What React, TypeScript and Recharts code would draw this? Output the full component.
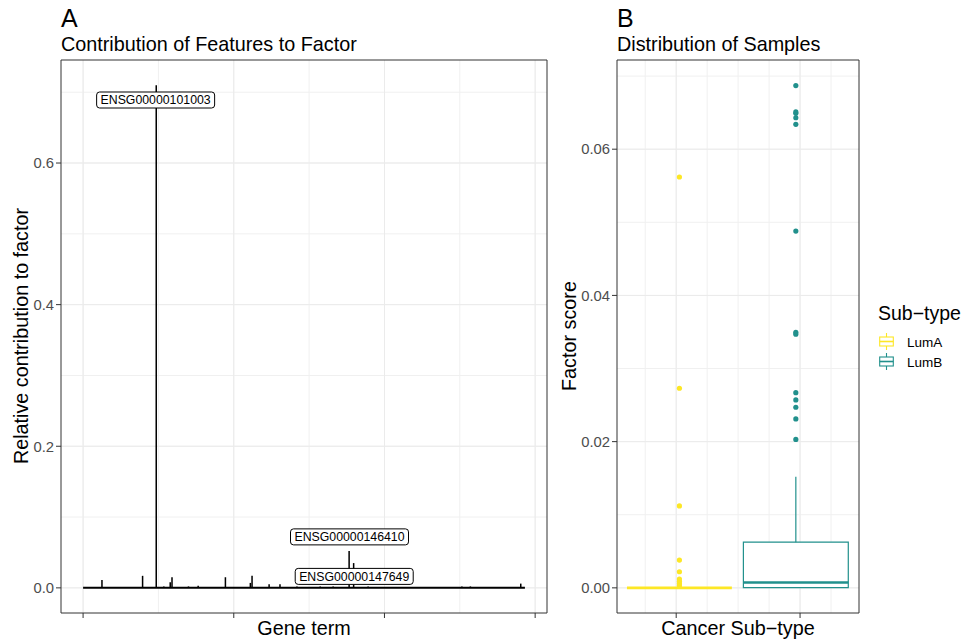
import React from 'react'
import {
  ComposedChart,
  Bar,
  Scatter,
  XAxis,
  YAxis,
  CartesianGrid,
  ReferenceLine,
  ReferenceArea,
  ReferenceDot,
} from 'recharts'

// ---- Panel A data: per-gene contribution (gene index along x) ----
const geneIndex = [629, 1977, 2430, 2682, 2894, 2953, 3500, 3821, 4725, 5553, 5609, 6175, 6536, 7099, 7870, 8300, 8830, 8980, 9460, 12572, 12853, 14525]
const contribution = [0.011, 0.017, 0.71, 0.002, 0.008, 0.015, 0.002, 0.003, 0.015, 0.007, 0.017, 0.005, 0.005, 0.002, 0.002, 0.002, 0.052, 0.035, 0.002, 0.002, 0.002, 0.006]
const geneCount = 14660

const labelGenes = ['ENSG00000101003', 'ENSG00000146410', 'ENSG00000147649']
const labelIndex = [2407, 8840, 8996]
const labelValue = [0.689, 0.072, 0.0162]

const yTicksA = [0, 0.2, 0.4, 0.6]
const yGridA = [0, 0.1, 0.2, 0.3, 0.4, 0.5, 0.6, 0.7]
const xTicksA = [0, 5000, 10000, 15000]
const xGridA = [0, 2500, 5000, 7500, 10000, 12500, 15000]

// ---- Panel B data: factor score per sub-type ----
const subtypes = ['LumA', 'LumB']
const subtypeColors = ['#FDE725', '#21908C']
const boxQ1 = [0, 0.00003]
const boxMedian = [0, 0.00073]
const boxQ3 = [0, 0.00625]
const whiskerHigh = [0, 0.0152]
const lumAOutliers = [0.0562, 0.0273, 0.0112, 0.0038, 0.0022, 0.0012, 0.0009, 0.0006, 0.0003]
const lumBOutliers = [0.0687, 0.0651, 0.0649, 0.0643, 0.0634, 0.0488, 0.03495, 0.0347, 0.0267, 0.0257, 0.0247, 0.0231, 0.0203]

const yTicksB = [0, 0.02, 0.04, 0.06]
const yGridB = [0, 0.01, 0.02, 0.03, 0.04, 0.05, 0.06, 0.07]
const xTicksB = [1, 2]
const xGridB = [0.75, 1, 1.25, 1.5, 1.75, 2, 2.25]

// layout
const FONT = '"Liberation Sans", Arial, Helvetica, sans-serif'
const X_DOMAIN_A: [number, number] = [-733, 15393]
const Y_DOMAIN_A: [number, number] = [-0.0355, 0.7455]
const X_DOMAIN_B: [number, number] = [0.522, 2.476]
const Y_DOMAIN_B: [number, number] = [-0.00344, 0.0722]
const boxCenters = [1.026, 1.966]
const boxHalf = 0.4235

const tickStyle = { fontSize: 14.8, fill: '#4d4d4d', fontFamily: FONT }

const spikeData = geneIndex.map((g, i) => ({ gene: g, value: contribution[i] }))

function GeneLabel({ cx, cy, text }: { cx: number; cy: number; text: string }) {
  const w = 118
  const h = 16
  return (
    <g>
      <rect x={cx - w / 2} y={cy - h / 2} width={w} height={h} rx={3} ry={3} fill="#fff" stroke="#000" strokeWidth={1} />
      <text x={cx} y={cy + 4.4} textAnchor="middle" fontSize={12.3} fontFamily={FONT} fill="#000">
        {text}
      </text>
    </g>
  )
}

function PanelA() {
  return (
    <ComposedChart width={560} height={641} data={spikeData} margin={{ top: 60, right: 13, left: 21, bottom: 0 }}>
      <CartesianGrid stroke="#f0f0f0" strokeWidth={1} horizontalValues={yGridA} verticalValues={xGridA} />
      <CartesianGrid stroke="#ebebeb" strokeWidth={1} horizontalValues={yTicksA} verticalValues={xTicksA} />
      <XAxis
        dataKey="gene"
        type="number"
        domain={X_DOMAIN_A}
        ticks={xTicksA}
        allowDataOverflow
        height={28}
        tickFormatter={() => ''}
        tickSize={5}
        axisLine={false}
        tickLine={{ stroke: '#333' }}
      />
      <YAxis
        type="number"
        domain={Y_DOMAIN_A}
        ticks={yTicksA}
        allowDataOverflow
        width={40}
        tick={tickStyle}
        tickFormatter={(v: number) => v.toFixed(1)}
        tickSize={5}
        tickMargin={2}
        axisLine={false}
        tickLine={{ stroke: '#333' }}
      />
      <ReferenceLine segment={[{ x: 0, y: 0 }, { x: geneCount, y: 0 }]} stroke="#000" strokeWidth={2} />
      <Bar dataKey="value" fill="#000" barSize={2} isAnimationActive={false} />
      {labelGenes.map((g, i) => (
        <ReferenceDot
          key={g}
          x={labelIndex[i]}
          y={labelValue[i]}
          r={0}
          ifOverflow="visible"
          shape={(p: any) => <GeneLabel cx={p.cx} cy={p.cy} text={g} />}
        />
      ))}
      <ReferenceArea
        x1={X_DOMAIN_A[0]}
        x2={X_DOMAIN_A[1]}
        y1={Y_DOMAIN_A[0]}
        y2={Y_DOMAIN_A[1]}
        fill="none"
        stroke="#333"
        strokeWidth={1}
        ifOverflow="visible"
      />
    </ComposedChart>
  )
}

function PanelB() {
  const outliers = [lumAOutliers, lumBOutliers]
  return (
    <ComposedChart width={404} height={641} margin={{ top: 60, right: 105, left: 7, bottom: 0 }}>
      <CartesianGrid stroke="#f0f0f0" strokeWidth={1} horizontalValues={yGridB} verticalValues={xGridB} />
      <CartesianGrid stroke="#ebebeb" strokeWidth={1} horizontalValues={yTicksB} verticalValues={xTicksB} />
      <XAxis
        dataKey="x"
        type="number"
        domain={X_DOMAIN_B}
        ticks={xTicksB}
        allowDataOverflow
        height={28}
        tickFormatter={() => ''}
        tickSize={5}
        axisLine={false}
        tickLine={{ stroke: '#333' }}
      />
      <YAxis
        dataKey="y"
        type="number"
        domain={Y_DOMAIN_B}
        ticks={yTicksB}
        allowDataOverflow
        width={50}
        tick={tickStyle}
        tickFormatter={(v: number) => v.toFixed(2)}
        tickSize={5}
        tickMargin={2}
        axisLine={false}
        tickLine={{ stroke: '#333' }}
      />
      {subtypes.map((s, i) => (
        <ReferenceLine
          key={s + '-whisker'}
          segment={[{ x: boxCenters[i], y: boxQ3[i] }, { x: boxCenters[i], y: whiskerHigh[i] }]}
          stroke={subtypeColors[i]}
          strokeWidth={1.2}
        />
      ))}
      {subtypes.map((s, i) => (
        <ReferenceArea
          key={s + '-box'}
          x1={boxCenters[i] - boxHalf}
          x2={boxCenters[i] + boxHalf}
          y1={boxQ1[i]}
          y2={boxQ3[i]}
          fill="#fff"
          fillOpacity={1}
          stroke={subtypeColors[i]}
          strokeWidth={1.2}
        />
      ))}
      {subtypes.map((s, i) => (
        <ReferenceLine
          key={s + '-median'}
          segment={[{ x: boxCenters[i] - boxHalf, y: boxMedian[i] }, { x: boxCenters[i] + boxHalf, y: boxMedian[i] }]}
          stroke={subtypeColors[i]}
          strokeWidth={2.6}
        />
      ))}
      {subtypes.map((s, i) => (
        <Scatter
          key={s + '-out'}
          data={outliers[i].map((v) => ({ x: boxCenters[i], y: v }))}
          isAnimationActive={false}
          shape={(p: any) => <circle cx={p.cx} cy={p.cy} r={2.6} fill={subtypeColors[i]} />}
        />
      ))}
      <ReferenceArea
        x1={X_DOMAIN_B[0]}
        x2={X_DOMAIN_B[1]}
        y1={Y_DOMAIN_B[0]}
        y2={Y_DOMAIN_B[1]}
        fill="none"
        stroke="#333"
        strokeWidth={1}
        ifOverflow="visible"
      />
    </ComposedChart>
  )
}

function LegendKey({ x, y, color }: { x: number; y: number; color: string }) {
  // boxplot key glyph, 17x17
  return (
    <g stroke={color} strokeWidth={1.1} fill="#fff">
      <line x1={x + 8.5} y1={y} x2={x + 8.5} y2={y + 4} />
      <line x1={x + 8.5} y1={y + 13} x2={x + 8.5} y2={y + 17} />
      <rect x={x + 1.7} y={y + 4} width={13.6} height={9} />
      <line x1={x + 1.7} y1={y + 8.5} x2={x + 15.3} y2={y + 8.5} strokeWidth={1.6} />
    </g>
  )
}

export default function App() {
  return (
    <div style={{ position: 'absolute', left: 0, top: 0, width: 964, height: 641, background: '#fff', fontFamily: FONT }}>
      <div style={{ position: 'absolute', left: 0, top: 0 }}>
        <PanelA />
      </div>
      <div style={{ position: 'absolute', left: 560, top: 0 }}>
        <PanelB />
      </div>
      <svg width={964} height={641} style={{ position: 'absolute', left: 0, top: 0, pointerEvents: 'none' }} fontFamily={FONT}>
        <text x={61} y={27} fontSize={25} fill="#000">A</text>
        <text x={61} y={51} fontSize={19.8} fill="#000">Contribution of Features to Factor</text>
        <text x={617} y={27} fontSize={25} fill="#000">B</text>
        <text x={617} y={51} fontSize={19.8} fill="#000">Distribution of Samples</text>

        <text x={304} y={635} fontSize={19.8} textAnchor="middle" fill="#000">Gene term</text>
        <text x={738} y={635} fontSize={19.8} textAnchor="middle" fill="#000">Cancer Sub−type</text>
        <text x={28} y={336} fontSize={19.8} textAnchor="middle" fill="#000" transform="rotate(-90, 28, 336)">
          Relative contribution to factor
        </text>
        <text x={576} y={336} fontSize={19.8} textAnchor="middle" fill="#000" transform="rotate(-90, 576, 336)">
          Factor score
        </text>

        <text x={878} y={320} fontSize={19.5} fill="#000">Sub−type</text>
        {subtypes.map((s, i) => (
          <g key={s}>
            <LegendKey x={878} y={333 + i * 20} color={subtypeColors[i]} />
            <text x={907} y={347 + i * 20} fontSize={13.5} fill="#000">{s}</text>
          </g>
        ))}
      </svg>
    </div>
  )
}
